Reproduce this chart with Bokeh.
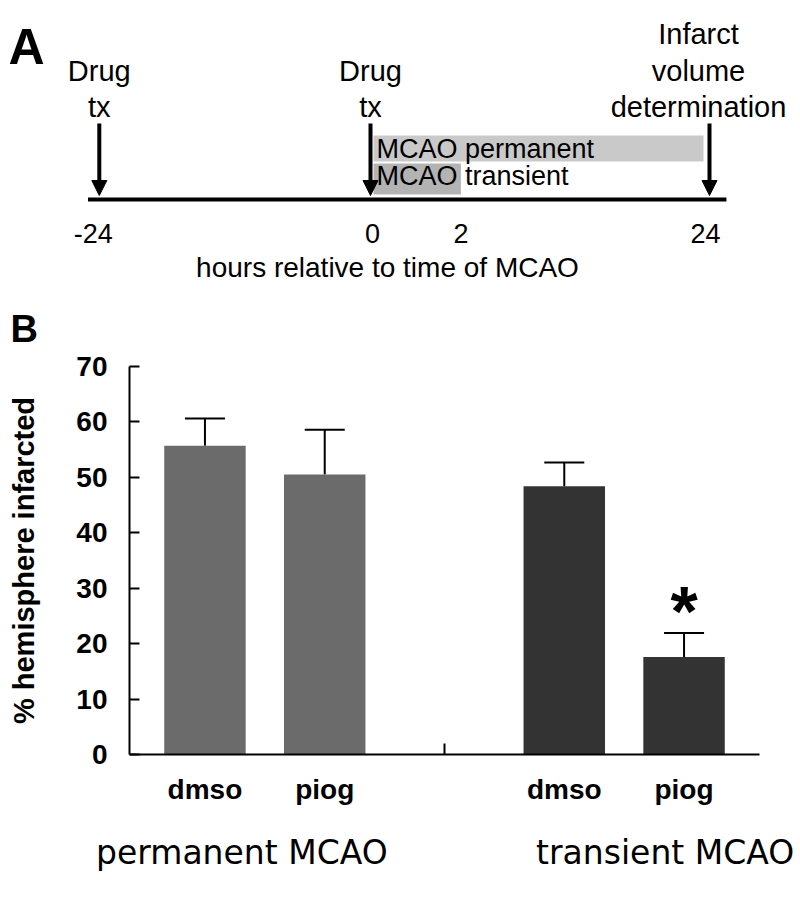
import numpy as np
from bokeh.plotting import figure
from bokeh.models import (Range1d, FactorRange, ColumnDataSource, Arrow, NormalHead,
                          Whisker, TeeHead, FixedTicker)
from bokeh.core.properties import value
from bokeh.embed import file_html
from bokeh.resources import INLINE

# ---------------- Panel A data: protocol timeline (hours relative to MCAO) ----------
event_hours = [-24, 0, 24]
event_text = [["Drug", "tx"], ["Drug", "tx"], ["Infarct", "volume", "determination"]]
tick_hours = [-24, 0, 2, 24]
tick_labels = ["-24", "0", "2", "24"]
occlusion_names = ["MCAO permanent", "MCAO transient"]
occlusion_start_h = [0, 0]
occlusion_end_h = [24, 2]
occlusion_colors = ["#c9c9c9", "#b3b3b3"]
timeline_h = [-25, 25.5]
axis_title_A = "hours relative to time of MCAO"

# ---------------- Panel B data: infarct size ----------------------------------------
groups = ["permanent MCAO", "transient MCAO"]
treatments = ["dmso", "piog"]
infarct_mean = [55.7, 50.5, 48.4, 17.6]
infarct_sem = [4.9, 8.1, 4.3, 4.3]
significant = [False, False, False, True]
group_colors = ["#6b6b6b", "#333333"]
y_ticks = [0, 10, 20, 30, 40, 50, 60, 70]
y_title = "% hemisphere infarcted"

SANS = "Liberation Sans"
W = 800

# ---------------- Panel A ------------------------------------------------------------
STRETCH = 4.0          # the 0-2 h window is drawn expanded (schematic axis)


def schem(h):
    h = np.asarray(h, dtype=float)
    return np.where(h <= 0, h, np.where(h <= 2, h * STRETCH, 2 * STRETCH + (h - 2)))


PX_PER_UNIT = 11.3
X0_PX = 370.0          # pixel position of hour 0


def u(px):             # pixel -> schematic unit (layout only)
    return (px - X0_PX) / PX_PER_UNIT


def du(px):            # pixel length -> units
    return px / PX_PER_UNIT


HA = 350
pA = figure(width=W, height=HA, x_range=Range1d(u(0), u(W)), y_range=Range1d(HA, 0),
            x_axis_type=None, y_axis_type=None, output_backend="svg", toolbar_location=None,
            min_border=0, title=None)
pA.outline_line_color = None
pA.grid.visible = False

# occlusion boxes
box_src = ColumnDataSource(dict(
    left=schem(occlusion_start_h) + du(3),
    right=schem(occlusion_end_h) - np.array([du(6), 0.0]),
    top=[135, 163], bottom=[161, 194], color=occlusion_colors,
    tx=schem(occlusion_start_h) + du(6), ty=[148.5, 175.5], name=occlusion_names))
pA.quad(left="left", right="right", top="top", bottom="bottom", fill_color="color",
        line_color=None, source=box_src)
pA.text(x="tx", y="ty", text="name", source=box_src, text_font=value(SANS),
        text_font_size="27px", text_baseline="middle", text_align="left", text_color="black")

# timeline
pA.segment(x0=[schem(timeline_h[0])], x1=[schem(timeline_h[1])], y0=[199], y1=[199],
           line_width=4, line_color="black")

# arrows
ex = schem(event_hours)
arr_src = ColumnDataSource(dict(x=ex, y0=[123] * 3, y1=[195] * 3))
pA.add_layout(Arrow(end=NormalHead(size=15, fill_color="black", line_color="black"),
                    source=arr_src, x_start="x", y_start="y0", x_end="x", y_end="y1",
                    line_width=4, line_color="black"))

# event labels
tx_, ty_, tt_, toff = [], [], [], []
for hx, lines, off in zip(ex, event_text, [0, 0, -11]):
    n = len(lines)
    for i, line in enumerate(lines):
        tx_.append(hx)
        ty_.append(106.5 - (n - 1 - i) * 36.5)
        tt_.append(line)
        toff.append(off)
pA.text(x=tx_, y=ty_, text=tt_, x_offset=toff, text_font=value(SANS), text_font_size="29px",
        text_align="center", text_baseline="middle", text_color="black")

# tick labels
pA.text(x=schem(tick_hours), y=[232.5] * len(tick_hours), text=tick_labels,
        x_offset=[-6, 2, 0, -4], text_font=value(SANS), text_font_size="27px",
        text_align="center", text_baseline="middle", text_color="black")
pA.text(x=[u(387)], y=[267], text=[axis_title_A], text_font=value(SANS), text_font_size="28px",
        text_align="center", text_baseline="middle", text_color="black")

# panel letters
pA.text(x=[u(8)], y=[46], text=["A"], text_font=value(SANS), text_font_style="bold",
        text_font_size="50px", text_align="left", text_baseline="middle", text_color="black")
pA.text(x=[u(10)], y=[328], text=["B"], text_font=value(SANS), text_font_style="bold",
        text_font_size="38px", text_align="left", text_baseline="middle", text_color="black")

# ---------------- Panel B ------------------------------------------------------------
GROUP_PAD = 1.0
PAD = 0.13
FRAME_L, FRAME_R = 129, 759        # plot-area edges
FRAME_T, FRAME_B = 366, 754
B_TOP, B_BOT = HA, 830             # vertical extent of the bar-chart canvas

factors = [(g, t) for g in groups for t in treatments]
means = np.array(infarct_mean)
upper = means + np.array(infarct_sem)
colors = [group_colors[groups.index(g)] for g, _ in factors]
src = ColumnDataSource(dict(x=factors, top=means, upper=upper, color=colors))

pB = figure(width=W, height=B_BOT - B_TOP,
            x_range=FactorRange(*factors, factor_padding=0.0, group_padding=GROUP_PAD,
                                range_padding=PAD, range_padding_units="absolute"),
            y_range=Range1d(0, 70), output_backend="svg", toolbar_location=None,
            min_border_left=FRAME_L, min_border_right=W - FRAME_R,
            min_border_top=FRAME_T - B_TOP, min_border_bottom=B_BOT - FRAME_B, title=None)
pB.outline_line_color = None
pB.grid.visible = False

pB.vbar(x="x", top="top", width=0.68, fill_color="color", line_color=None, source=src)
pB.add_layout(Whisker(source=src, base="x", lower="top", upper="upper", dimension="height",
                      lower_head=None,
                      upper_head=TeeHead(size=40, line_width=2, line_color="black"),
                      line_width=2, line_color="black"))

sig_x = [f for f, s in zip(factors, significant) if s]
sig_y = [float(v) + 10.8 for v, s in zip(upper, significant) if s]
pB.text(x=sig_x, y=sig_y, text=["*"] * len(sig_x), text_font=value(SANS),
        text_font_style="bold", text_font_size="70px", text_align="center",
        text_baseline="top", text_color="black")

# divider tick between the two groups (midway between last bar of group 1 and group 2)
mid = (groups[0], treatments[-1], 1.0)
pB.segment(x0=[mid], x1=[mid], y0=[0], y1=[2], line_width=2, line_color="black")

ya = pB.yaxis[0]
ya.ticker = FixedTicker(ticks=y_ticks)
ya.major_tick_in = 10
ya.major_tick_out = 0
ya.minor_tick_line_color = None
ya.axis_line_width = 2
ya.major_tick_line_width = 2
ya.major_label_text_font = SANS
ya.major_label_text_font_style = "bold"
ya.major_label_text_font_size = "28px"
ya.major_label_text_color = "black"
ya.major_label_standoff = 22
ya.axis_label = y_title
ya.axis_label_text_font = SANS
ya.axis_label_text_font_style = "bold"
ya.axis_label_text_font_size = "29px"
ya.axis_label_text_color = "black"
ya.axis_label_standoff = 33

xa = pB.xaxis[0]
xa.axis_line_width = 2
xa.major_tick_line_color = None
xa.minor_tick_line_color = None
xa.separator_line_color = None
xa.major_label_text_font = SANS
xa.major_label_text_font_style = "bold"
xa.major_label_text_font_size = "28px"
xa.major_label_text_color = "black"
xa.major_label_standoff = 13
xa.group_text_color = None          # group names drawn in the strip below
xa.group_text_font_size = "1px"

# ---------------- group-name strip (same category scale, wider frame) ----------------
n_units = len(factors) + GROUP_PAD * (len(groups) - 1)
unit_px = (FRAME_R - FRAME_L) / (n_units + 2 * PAD)
extra = W - FRAME_R
HC = 901 - B_BOT
pC = figure(width=W, height=HC,
            x_range=FactorRange(*factors, factor_padding=0.0, group_padding=GROUP_PAD,
                                range_padding=PAD + extra / unit_px,
                                range_padding_units="absolute"),
            y_range=Range1d(HC, 0), x_axis_type=None, y_axis_type=None,
            output_backend="svg", toolbar_location=None, title=None,
            min_border_left=FRAME_L - extra, min_border_right=0,
            min_border_top=0, min_border_bottom=0)
pC.outline_line_color = None
pC.grid.visible = False
pC.text(x=groups, y=[852 - B_BOT] * len(groups), text=groups, x_offset=[-23, 41],
        text_font=value("DejaVu Sans"), text_font_size="33px", text_align="center",
        text_baseline="middle", text_color="black")

open("out.html", "w").write(file_html([pA, pB, pC], INLINE))
